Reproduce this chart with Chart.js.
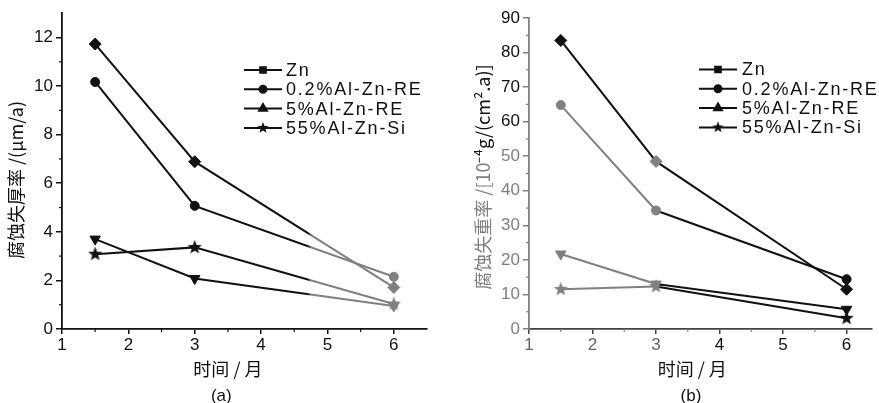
<!DOCTYPE html>
<html lang="zh">
<head>
<meta charset="UTF-8">
<title>腐蚀失厚率 / 腐蚀失重率</title>
<script src="https://cdn.jsdelivr.net/npm/chart.js@4.4.0/dist/chart.umd.min.js"></script>
<style>
  html, body { margin: 0; padding: 0; background: #fff; }
  .row { display: flex; width: 879px; height: 403px; }
  .panel { position: relative; height: 403px; }
</style>
</head>
<body>
<div class="row">
  <div class="panel" style="width:440px"><canvas id="chartA"></canvas></div>
  <div class="panel" style="width:439px"><canvas id="chartB"></canvas></div>
</div>
<script>
// time in months
const months = [1.5, 3, 6];
const seriesNames = ['Zn', '0.2%Al-Zn-RE', '5%Al-Zn-RE', '55%Al-Zn-Si'];

// (a) corrosion thickness loss, µm/a
const thickZn   = [11.73, 6.89, 1.71];
const thickAl02 = [10.17, 5.07, 2.15];
const thickAl5  = [3.70, 2.08, 0.95];
const thickAl55 = [3.08, 3.36, 1.03];

// (b) corrosion weight loss, 10^-4 g/(cm2.a)
const weightZn   = [83.5, 48.5, 11.5];
const weightAl02 = [64.8, 34.3, 14.4];
const weightAl5  = [21.7, 13.0, 5.7];
const weightAl55 = [11.5, 12.3, 3.1];

const xTicks = [1, 2, 3, 4, 5, 6];
const xMinor = [1.5, 2.5, 3.5, 4.5, 5.5];
const yTicksA = [0, 2, 4, 6, 8, 10, 12];
const yMinorA = [1, 3, 5, 7, 9, 11];
const yTicksB = [0, 10, 20, 30, 40, 50, 60, 70, 80, 90];
const yMinorB = [5, 15, 25, 35, 45, 55, 65, 75, 85];

const INK = '#111';
const GREY = '#808080';
const LATIN = '"Liberation Sans", Arial, sans-serif';
const CJK = '"Noto Sans CJK SC", "Liberation Sans", sans-serif';

function makeStar(color, size) {
  const c = document.createElement('canvas');
  c.width = size; c.height = size;
  const g = c.getContext('2d');
  const r = size / 2, ri = r * 0.42;
  g.beginPath();
  for (let i = 0; i < 10; i++) {
    const a = -Math.PI / 2 + i * Math.PI / 5;
    const rr = i % 2 ? ri : r;
    g.lineTo(r + rr * Math.cos(a), r + rr * Math.sin(a));
  }
  g.closePath();
  g.fillStyle = color;
  g.fill();
  return c;
}
const starInk = makeStar(INK, 15);
const starGrey = makeStar(GREY, 15);
const starLegend = makeStar(INK, 12);

const pts = vals => months.map((m, i) => ({ x: m, y: vals[i] }));

// scan fades to grey on the right half of panel (a)
function fadeRight(c) {
  const { ctx, chartArea, scales } = c.chart;
  if (!chartArea) return INK;
  const x0 = chartArea.left, x1 = chartArea.right;
  const p = (scales.x.getPixelForValue(4.7) - x0) / (x1 - x0);
  const g = ctx.createLinearGradient(x0, 0, x1, 0);
  g.addColorStop(0, INK);
  g.addColorStop(p, INK);
  g.addColorStop(Math.min(1, p + 0.01), GREY);
  g.addColorStop(1, GREY);
  return g;
}

// legend markers
const legendMarks = [
  { pointStyle: 'rect', radius: 4, rotation: 0 },
  { pointStyle: 'circle', radius: 3.5, rotation: 0 },
  { pointStyle: 'triangle', radius: 4.5, rotation: 0 },
  { pointStyle: starLegend, radius: 6, rotation: 0 }
];

function overlay(opt) {
  return {
    id: 'overlay',
    afterDraw(chart) {
      const { ctx, scales } = chart;
      ctx.save();
      // minor ticks
      ctx.strokeStyle = opt.minorColor;
      ctx.lineWidth = 1.2;
      const xs = scales.x, ys = scales.y;
      xMinor.forEach(v => {
        const px = xs.getPixelForValue(v);
        ctx.beginPath(); ctx.moveTo(px, xs.top); ctx.lineTo(px, xs.top + 3); ctx.stroke();
      });
      opt.yMinor.forEach(v => {
        const py = ys.getPixelForValue(v);
        ctx.beginPath(); ctx.moveTo(ys.right, py); ctx.lineTo(ys.right - 3, py); ctx.stroke();
      });

      // legend
      ctx.lineWidth = 2;
      ctx.font = '18px ' + LATIN;
      ctx.textBaseline = 'middle';
      ctx.textAlign = 'left';
      seriesNames.forEach((name, i) => {
        const y = opt.legend.top + i * 19.3;
        ctx.strokeStyle = INK;
        ctx.fillStyle = INK;
        ctx.beginPath();
        ctx.moveTo(opt.legend.x0, y);
        ctx.lineTo(opt.legend.x1, y);
        ctx.stroke();
        Chart.helpers.drawPoint(ctx, Object.assign({ borderWidth: 1 }, legendMarks[i]),
          (opt.legend.x0 + opt.legend.x1) / 2, y);
        ctx.letterSpacing = '1.8px';
        ctx.fillText(name, opt.legend.tx, y + 1);
        ctx.letterSpacing = '0px';
      });

      // x title
      ctx.fillStyle = INK;
      ctx.textAlign = 'center';
      ctx.font = '18px ' + CJK;
      ctx.fillText('时间 / 月', xs.getPixelForValue(opt.titleAt), 369);
      ctx.font = '17px ' + LATIN;
      ctx.fillText(opt.caption, xs.getPixelForValue(opt.captionAt), 396);

      // y title (may be split in two colours)
      ctx.translate(opt.yTitleX, opt.yTitleY);
      ctx.rotate(-Math.PI / 2);
      ctx.font = '18px ' + CJK;
      ctx.textAlign = 'left';
      const total = opt.yTitle.reduce((s, p) => s + ctx.measureText(p.text).width, 0);
      let x = -total / 2;
      opt.yTitle.forEach(p => {
        ctx.fillStyle = p.color;
        ctx.fillText(p.text, x, 0);
        x += ctx.measureText(p.text).width;
      });
      ctx.restore();
    }
  };
}

function axes(o) {
  return {
    x: {
      type: 'linear', min: 1, max: o.xMax,
      afterBuildTicks: s => { s.ticks = xTicks.map(v => ({ value: v })); },
      afterFit: s => { s.height = 74; },
      ticks: { padding: 1, color: o.xTickColor, font: { family: LATIN, size: 17 } },
      grid: { drawOnChartArea: false, drawTicks: true, tickLength: 5, color: o.xAxisColor, lineWidth: 1.5 },
      border: { color: o.xAxisColor, width: 1.8 }
    },
    y: {
      min: 0, max: o.yMax,
      afterBuildTicks: s => { s.ticks = o.yTicks.map(v => ({ value: v })); },
      afterFit: s => { s.width = o.yWidth; },
      ticks: { padding: 3, color: o.yTickColor, font: { family: LATIN, size: 17 } },
      grid: { drawOnChartArea: false, drawTicks: true, tickLength: 6, color: o.yAxisColor, lineWidth: 1.5 },
      border: { color: o.yAxisColor, width: 1.8 }
    }
  };
}

const baseOptions = {
  responsive: true,
  maintainAspectRatio: false,
  animation: false,
  plugins: { legend: { display: false }, tooltip: { enabled: false } }
};

// ---------- panel (a)
const dsA = [
  { label: seriesNames[0], data: pts(thickZn), pointStyle: 'rectRot', pointRadius: 6 },
  { label: seriesNames[1], data: pts(thickAl02), pointStyle: 'circle', pointRadius: 4.5 },
  { label: seriesNames[2], data: pts(thickAl5), pointStyle: 'triangle', pointRadius: 6, pointRotation: 180 },
  { label: seriesNames[3], data: pts(thickAl55), pointStyle: [starInk, starInk, starGrey] }
].map(d => Object.assign({
  borderColor: fadeRight,
  borderWidth: 2,
  pointBackgroundColor: [INK, INK, GREY],
  pointBorderColor: [INK, INK, GREY],
  pointBorderWidth: 1,
  tension: 0
}, d));

new Chart(document.getElementById('chartA'), {
  type: 'line',
  data: { datasets: dsA },
  options: Object.assign({}, baseOptions, {
    layout: { padding: { top: 13, right: 13, left: 0, bottom: 0 } },
    scales: axes({
      xMax: 6.5, yMax: 13, yTicks: yTicksA, yWidth: 62,
      xTickColor: INK, yTickColor: INK, xAxisColor: INK, yAxisColor: INK
    })
  }),
  plugins: [overlay({
    yMinor: yMinorA, minorColor: INK,
    legend: { x0: 244, x1: 282, tx: 286, top: 70 },
    titleAt: 3.5, caption: '(a)', captionAt: 3.4,
    yTitleX: 16, yTitleY: 180,
    yTitle: [{ text: '腐蚀失厚率 /(μm/a)', color: INK }]
  })]
});

// ---------- panel (b)
const firstSeg = [INK, GREY, GREY, GREY];
const dsB = [
  { label: seriesNames[0], data: pts(weightZn), pointStyle: 'rectRot', pointRadius: 6,
    pointBackgroundColor: [INK, GREY, INK], pointBorderColor: [INK, GREY, INK] },
  { label: seriesNames[1], data: pts(weightAl02), pointStyle: 'circle', pointRadius: 4.5 },
  { label: seriesNames[2], data: pts(weightAl5), pointStyle: 'triangle', pointRadius: 6, pointRotation: 180 },
  { label: seriesNames[3], data: pts(weightAl55), pointStyle: [starGrey, starGrey, starInk] }
].map((d, i) => Object.assign({
  borderColor: INK,
  borderWidth: 2,
  segment: { borderColor: c => c.p0DataIndex === 0 ? firstSeg[i] : INK },
  pointBackgroundColor: [GREY, GREY, INK],
  pointBorderColor: [GREY, GREY, INK],
  pointBorderWidth: 1,
  tension: 0
}, d));

new Chart(document.getElementById('chartB'), {
  type: 'line',
  data: { datasets: dsB },
  options: Object.assign({}, baseOptions, {
    layout: { padding: { top: 18, right: 1, left: 0, bottom: 0 } },
    scales: axes({
      xMax: 6.4, yMax: 90, yTicks: yTicksB, yWidth: 89,
      xTickColor: c => c.tick.value <= 3 ? '#666' : INK,
      yTickColor: c => c.tick.value >= 60 ? INK : GREY,
      xAxisColor: '#444', yAxisColor: GREY
    })
  }),
  plugins: [overlay({
    yMinor: yMinorB, minorColor: GREY,
    legend: { x0: 259, x1: 297, tx: 302, top: 69.5 },
    titleAt: 3.57, caption: '(b)', captionAt: 3.55,
    yTitleX: 43, yTitleY: 177,
    yTitle: [{ text: '腐蚀失重率 /[10', color: GREY }, { text: '⁻⁴g/(cm².a)]', color: INK }]
  })]
});
</script>
</body>
</html>
